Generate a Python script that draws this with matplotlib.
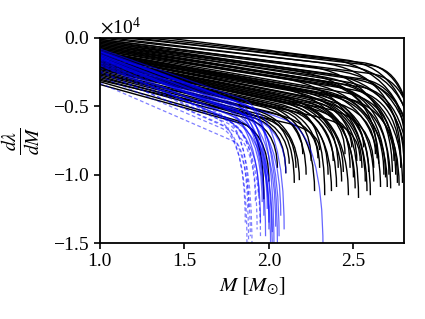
import matplotlib
matplotlib.use("Agg")
import matplotlib.pyplot as plt
from matplotlib.path import Path
from matplotlib.patches import PathPatch

plt.rcParams['font.family'] = ['Liberation Serif', 'DejaVu Serif']
plt.rcParams['mathtext.fontset'] = 'stix'

ftsize = 14

# curvas (y en unidades de 1e4)
# columnas: y en M=1, M del codo, y del codo, M final, y final
neg_y0 = [0.02, 0.00, -0.01, -0.02, -0.03, -0.03, -0.04, -0.05, -0.05, -0.06,
          -0.07, -0.07, -0.08, -0.09, -0.09, -0.10, -0.10, -0.11, -0.11, -0.12,
          -0.12, -0.13, -0.13, -0.14, -0.14, -0.15, -0.15, -0.16, -0.16, -0.17,
          -0.17, -0.18, -0.18, -0.19, -0.19, -0.20, -0.20, -0.21, -0.22, -0.22,
          -0.23, -0.24, -0.25, -0.26, -0.27, -0.28, -0.30, -0.32, -0.34,
          0.06, 0.04, 0.03, 0.01, -0.01, -0.02, -0.04, -0.06, -0.08, -0.10,
          -0.12, -0.13, -0.15, -0.17, -0.19, -0.21, -0.23, -0.26, -0.29, -0.31]
neg_mk = [2.55, 2.45, 2.60, 2.40, 2.50, 2.35, 2.45, 2.30, 2.55, 2.40,
          2.25, 2.50, 2.35, 2.45, 2.20, 2.30, 2.40, 2.25, 2.35, 2.20,
          2.30, 2.15, 2.35, 2.25, 2.10, 2.30, 2.20, 2.15, 2.25, 2.10,
          2.20, 2.05, 2.15, 2.10, 2.00, 2.05, 2.15, 2.00, 1.95, 2.05,
          1.95, 2.00, 1.90, 1.95, 1.85, 1.90, 1.85, 1.80, 1.85,
          2.45, 2.30, 2.60, 2.30, 2.20, 2.55, 2.15, 2.30, 2.10, 2.45,
          2.05, 2.25, 2.00, 2.35, 2.20, 2.10, 2.30, 2.05, 1.95, 2.10]
neg_yk = [-0.18, -0.20, -0.26, -0.24, -0.30, -0.26, -0.32, -0.28, -0.36, -0.33,
          -0.30, -0.38, -0.34, -0.40, -0.32, -0.38, -0.42, -0.37, -0.42, -0.38,
          -0.42, -0.38, -0.46, -0.44, -0.38, -0.48, -0.44, -0.44, -0.48, -0.44,
          -0.48, -0.44, -0.48, -0.48, -0.44, -0.48, -0.52, -0.48, -0.48, -0.52,
          -0.50, -0.54, -0.52, -0.56, -0.54, -0.58, -0.58, -0.60, -0.63,
          -0.16, -0.14, -0.20, -0.18, -0.20, -0.30, -0.24, -0.32, -0.30, -0.44,
          -0.36, -0.44, -0.40, -0.52, -0.50, -0.52, -0.58, -0.56, -0.58, -0.62]
neg_me = [2.86, 2.88, 2.87, 2.85, 2.86, 2.82, 2.80, 2.79, 2.84, 2.76,
          2.75, 2.78, 2.72, 2.74, 2.70, 2.68, 2.71, 2.66, 2.65, 2.62,
          2.60, 2.59, 2.63, 2.57, 2.55, 2.53, 2.52, 2.50, 2.48, 2.47,
          2.45, 2.43, 2.41, 2.40, 2.38, 2.35, 2.33, 2.30, 2.27, 2.25,
          2.22, 2.20, 2.18, 2.15, 2.12, 2.10, 2.05, 2.00, 1.97,
          2.86, 2.84, 2.85, 2.78, 2.73, 2.81, 2.69, 2.64, 2.58, 2.77,
          2.51, 2.56, 2.44, 2.62, 2.49, 2.37, 2.54, 2.29, 2.16, 2.30]
neg_ye = [-0.95, -1.05, -0.95, -1.05, -1.00, -1.05, -0.94, -1.06, -1.20, -1.06,
          -1.00, -0.95, -1.10, -0.90, -1.09, -1.00, -1.00, -1.09, -0.92, -1.05,
          -1.15, -0.98, -0.85, -1.05, -0.95, -1.17, -0.90, -1.02, -0.95, -1.15,
          -0.85, -1.05, -0.95, -1.09, -0.90, -1.00, -1.15, -0.95, -1.12, -0.90,
          -1.00, -0.85, -1.04, -1.06, -0.92, -0.99, -0.95, -1.05, -1.18,
          -1.00, -0.95, -0.90, -0.90, -0.98, -0.85, -1.02, -0.88, -1.12, -1.08,
          -1.10, -0.80, -0.98, -0.95, -0.80, -1.12, -0.90, -0.88, -0.95, -0.82]

azul_y0 = [-0.08, -0.09, -0.10, -0.10, -0.11, -0.12, -0.12, -0.13, -0.13, -0.14,
           -0.14, -0.15, -0.16, -0.17, -0.18, -0.19, -0.20, -0.10, -0.15]
azul_mk = [1.85, 1.80, 1.85, 1.78, 1.88, 1.82, 1.75, 1.85, 1.80, 1.72,
           1.82, 1.78, 1.85, 1.75, 1.80, 1.70, 1.78, 2.10, 1.90]
azul_yk = [-0.45, -0.46, -0.48, -0.47, -0.50, -0.50, -0.48, -0.52, -0.52, -0.50,
           -0.54, -0.54, -0.56, -0.55, -0.58, -0.56, -0.60, -0.60, -0.58]
azul_me = [2.03, 2.00, 2.05, 1.98, 2.09, 2.02, 1.97, 2.06, 2.01, 1.95,
           2.04, 1.99, 2.07, 1.96, 2.02, 1.94, 2.00, 2.32, 2.10]
azul_ye = [-1.55, -1.40, -1.50, -1.45, -1.40, -1.60, -1.30, -1.45, -1.55, -1.35,
           -1.38, -1.25, -1.30, -1.20, -1.42, -1.15, -1.35, -1.55, -0.99]

trazo_y0 = [-0.33, -0.28, -0.25, -0.22, -0.20, -0.18, -0.16, -0.24, -0.14]
trazo_mk = [1.80, 1.72, 1.70, 1.75, 1.68, 1.78, 1.75, 1.76, 1.72]
trazo_yk = [-0.76, -0.66, -0.62, -0.62, -0.58, -0.62, -0.60, -0.66, -0.56]
trazo_me = [1.88, 1.87, 1.89, 1.90, 1.86, 1.93, 1.95, 1.92, 1.88]
trazo_ye = [-1.55, -1.50, -1.45, -1.55, -1.35, -1.40, -1.45, -1.20, -1.25]

escala = 1e4


def curva(y0, mk, yk, me, ye):
    # recta hasta el codo y despues bezier que cae en vertical
    pend = (yk - y0) / (mk - 1.0)
    yc = yk + pend * (me - mk)
    verts = [(1.0, y0 * escala), (mk, yk * escala),
             (me, yc * escala), (me, ye * escala)]
    codes = [Path.MOVETO, Path.LINETO, Path.CURVE3, Path.CURVE3]
    return Path(verts, codes)


fig = plt.figure(figsize=(4.25, 3.19), dpi=100)
ax = fig.add_axes([0.235, 0.238, 0.716, 0.643])

for i in range(len(neg_y0)):
    p = curva(neg_y0[i], neg_mk[i], neg_yk[i], neg_me[i], neg_ye[i])
    ax.add_patch(PathPatch(p, fill=False, edgecolor='black', lw=1.0))

for i in range(len(azul_y0)):
    p = curva(azul_y0[i], azul_mk[i], azul_yk[i], azul_me[i], azul_ye[i])
    ax.add_patch(PathPatch(p, fill=False, edgecolor='blue', lw=0.9, alpha=0.6))

for i in range(len(trazo_y0)):
    p = curva(trazo_y0[i], trazo_mk[i], trazo_yk[i], trazo_me[i], trazo_ye[i])
    ax.add_patch(PathPatch(p, fill=False, edgecolor='blue', lw=0.9, alpha=0.5,
                           linestyle=(0, (3, 2))))

ax.set_xlim(1.0, 2.8)
ax.set_ylim(-1.5e4, 0)
ax.set_xticks([1.0, 1.5, 2.0, 2.5])
ax.set_yticks([0, -0.5e4, -1.0e4, -1.5e4])
ax.ticklabel_format(axis='y', style='sci', scilimits=(0, 0), useMathText=True)
ax.yaxis.get_offset_text().set_fontsize(ftsize)
ax.tick_params(labelsize=ftsize, direction='out', length=4, width=1.2)
for s in ax.spines.values():
    s.set_linewidth(1.3)

ax.set_xlabel(r"$M\ [M_{\odot}]$", fontsize=ftsize + 1)
ax.set_ylabel(r"$\frac{d\lambda}{dM}$", fontsize=ftsize + 6, labelpad=8)

fig.savefig("out.png", dpi=100)
